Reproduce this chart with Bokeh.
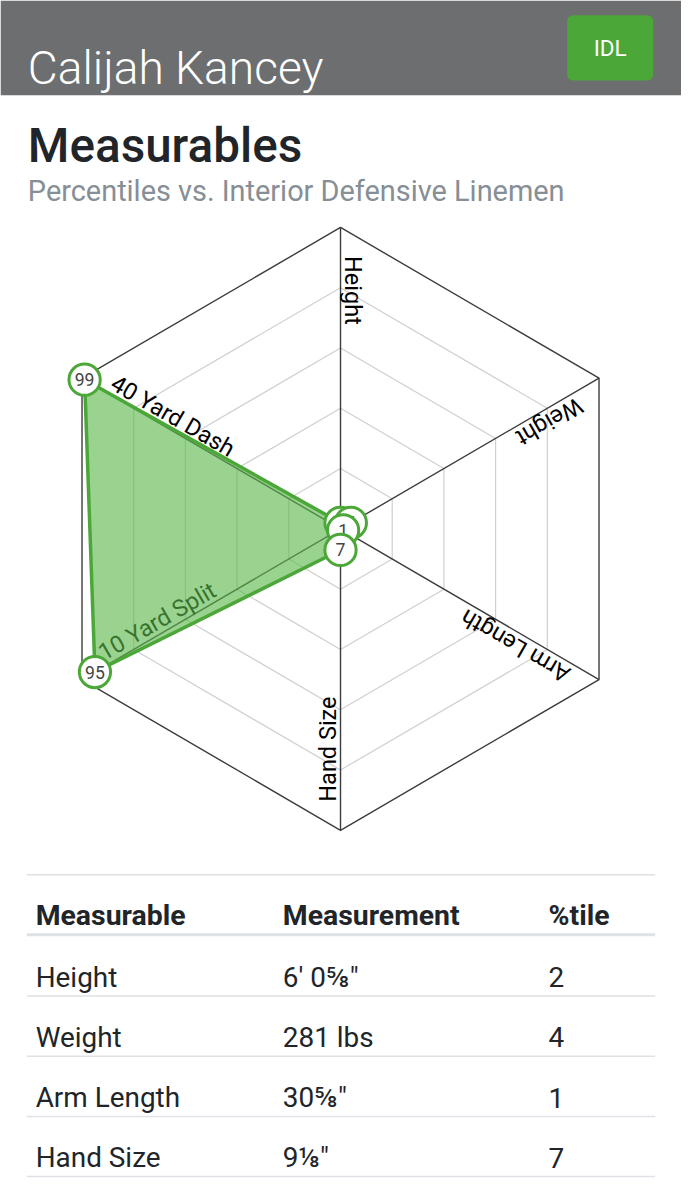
import numpy as np
from bokeh.plotting import figure
from bokeh.models import Range1d
from bokeh.embed import file_html
from bokeh.resources import INLINE
from bokeh.core.properties import value

# ---------------- data ----------------
player = "Calijah Kancey"
position = "IDL"
title = "Measurables"
subtitle = "Percentiles vs. Interior Defensive Linemen"
categories = ["Height", "Weight", "Arm Length", "Hand Size", "10 Yard Split", "40 Yard Dash"]
percentiles = [2, 4, 1, 7, 95, 99]
grid_levels = [20, 40, 60, 80]
max_level = 100
table_header = ["Measurable", "Measurement", "%tile"]
table_measurables = ["Height", "Weight", "Arm Length", "Hand Size"]
table_measurements = ["6' 0\u215d\"", "281 lbs", "30\u215d\"", "9\u215b\""]
table_percentiles = ["2", "4", "1", "7"]

# ---------------- styles ----------------
FONT = "Roboto"
GREEN = "#4ba737"
DARK = "#212529"
MUTED = "#868e96"
RULE = "#dee2e6"

W, H = 681, 1184
p = figure(width=W, height=H, output_backend="svg", toolbar_location=None,
           x_range=Range1d(0, 697), y_range=Range1d(0, 1200), min_border=0,
           x_axis_location=None, y_axis_location=None)
p.grid.visible = False
p.outline_line_color = None
p.background_fill_color = "white"
p.border_fill_color = "white"


def Y(y):
    return 1200 - y


def fs(px):
    return f"{px * 0.98:.1f}px"


# ---------------- header ----------------
p.quad(left=[0], right=[697], top=[Y(0)], bottom=[Y(96)], fill_color="#6d6e70", line_color=None)
p.text(x=[28], y=[Y(68)], text=[player], text_font=value("Roboto Light"), text_font_size=fs(47),
       text_color="white", text_baseline="alphabetic", text_align="left")

# rounded button
bx0, bx1, by0, by1, rad = 580, 668, 15, 81, 6
pts = []
for (cxr, cyr, a0) in [(bx1 - rad, by0 + rad, -90), (bx1 - rad, by1 - rad, 0),
                       (bx0 + rad, by1 - rad, 90), (bx0 + rad, by0 + rad, 180)]:
    for a in np.linspace(a0, a0 + 90, 8):
        pts.append((cxr + rad * np.cos(np.radians(a)), cyr + rad * np.sin(np.radians(a))))
p.patch([q[0] for q in pts], [Y(q[1]) for q in pts], fill_color=GREEN, line_color=None)
p.text(x=[(bx0 + bx1) / 2], y=[Y((by0 + by1) / 2)], text=[position], text_font=value(FONT),
       text_font_size=fs(23), text_color="white", text_align="center", text_baseline="middle")

# ---------------- titles ----------------
p.text(x=[28], y=[Y(147)], text=[title], text_font=value("Roboto Medium"), text_font_size=fs(48.5),
       text_color=DARK, text_baseline="alphabetic")
p.text(x=[28], y=[Y(193)], text=[subtitle], text_font=value(FONT), text_font_size=fs(29.5),
       text_color=MUTED, text_baseline="alphabetic")

# ---------------- radar ----------------
cx, cy, R = 348, Y(535.5), 305.5
n = len(categories)
theta = np.pi / 2 - np.arange(n) * 2 * np.pi / n


def ring(level):
    r = R * level / max_level
    return list(cx + r * np.cos(theta)), list(cy + r * np.sin(theta))


for lv in grid_levels:
    xs, ys = ring(lv)
    p.patch(xs + [xs[0]], ys + [ys[0]], fill_color=None, line_color="#cfcfcf", line_width=1.2)
xs, ys = ring(max_level)
p.patch(xs + [xs[0]], ys + [ys[0]], fill_color=None, line_color="#3c3c3c", line_width=1.4)
p.segment(x0=[cx] * n, y0=[cy] * n, x1=xs, y1=ys, line_color="#3c3c3c", line_width=1.4)

# axis labels along spokes, reading inward
for i, cat in enumerate(categories):
    th = theta[i]
    d = th + np.pi
    perp = d + np.pi / 2
    r0 = 0.905 * R
    off = 13
    lx = cx + r0 * np.cos(th) + off * np.cos(perp)
    ly = cy + r0 * np.sin(th) + off * np.sin(perp)
    p.text(x=[lx], y=[ly], text=[cat], angle=d, text_font=value(FONT), text_font_size=fs(24),
           text_color="black", text_align="left", text_baseline="middle")

vals = np.array(percentiles, dtype=float)
px = cx + R * vals / max_level * np.cos(theta)
py = cy + R * vals / max_level * np.sin(theta)
p.patch(list(px), list(py), fill_color="#5cb84a", fill_alpha=0.62, line_color=GREEN, line_width=3.5)

for i in range(n):
    p.circle(x=[px[i]], y=[py[i]], radius=16, fill_color="white",
             line_color=GREEN, line_width=3)
    p.text(x=[px[i]], y=[py[i]], text=[str(percentiles[i])], text_font=value(FONT),
           text_font_size=fs(18), text_color="#444444", text_align="center", text_baseline="middle")

# ---------------- table ----------------
col_x = [36, 289, 561]
p.segment(x0=[27], x1=[670], y0=[Y(886)], y1=[Y(886)], line_color=RULE, line_width=1.5)
p.segment(x0=[27], x1=[670], y0=[Y(947)], y1=[Y(947)], line_color=RULE, line_width=3)
for j, h in enumerate(table_header):
    p.text(x=[col_x[j]], y=[Y(927)], text=[h], text_font=value(FONT), text_font_style="bold",
           text_font_size=fs(29), text_color=DARK, text_baseline="alphabetic")

row_h = 61
for i in range(len(table_measurables)):
    base = 990 + row_h * i
    for j, txt in enumerate([table_measurables[i], table_measurements[i], table_percentiles[i]]):
        p.text(x=[col_x[j]], y=[Y(base)], text=[txt], text_font=value(FONT), text_font_size=fs(28.5),
               text_color=DARK, text_baseline="alphabetic")
    ly = 1009 + row_h * i
    p.segment(x0=[27], x1=[670], y0=[Y(ly)], y1=[Y(ly)], line_color=RULE, line_width=1.5)

open("out.html", "w").write(file_html(p, INLINE))
